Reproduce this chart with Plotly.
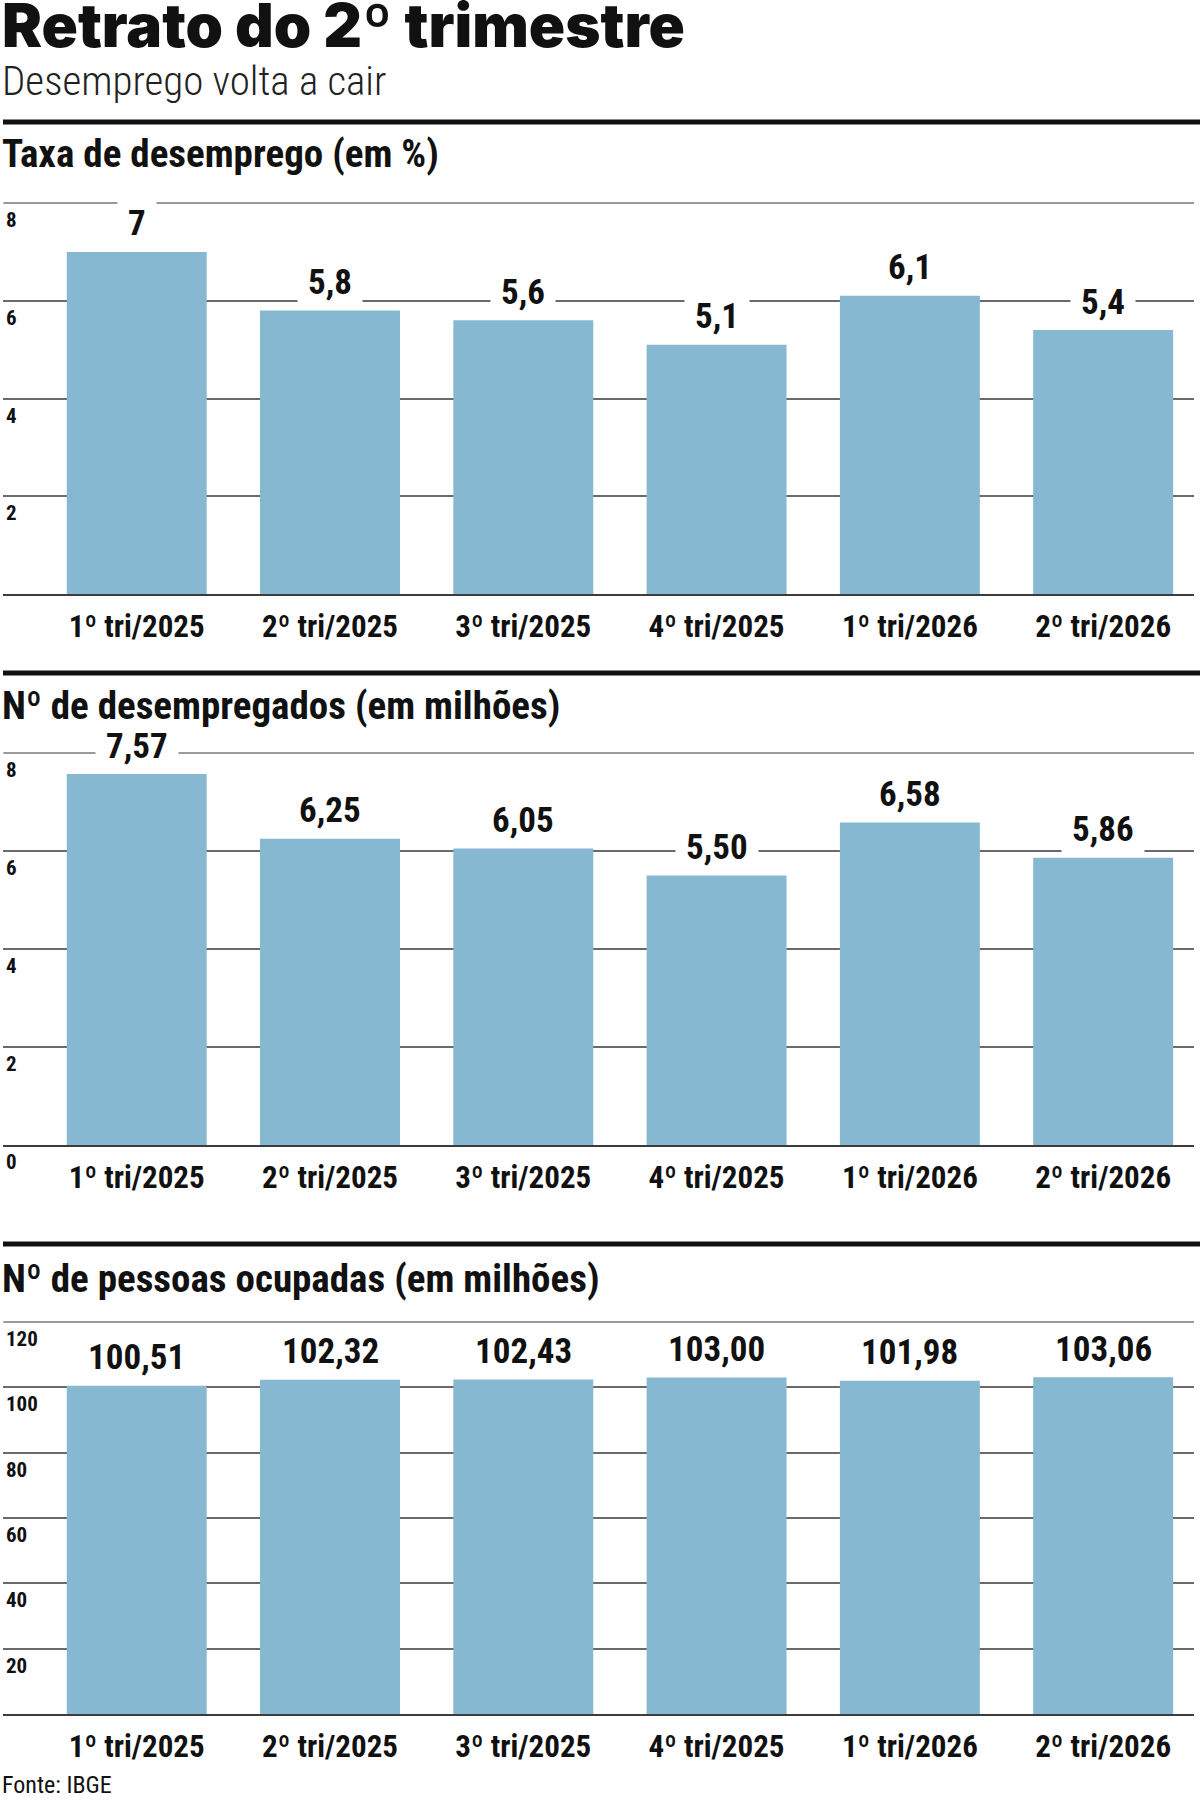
import plotly.graph_objects as go

# ---------------- data ----------------
categories = ["1º tri/2025", "2º tri/2025", "3º tri/2025", "4º tri/2025", "1º tri/2026", "2º tri/2026"]
taxa_desemprego = [7.0, 5.8, 5.6, 5.1, 6.1, 5.4]
desempregados = [7.57, 6.25, 6.05, 5.50, 6.58, 5.86]
ocupadas = [100.51, 102.32, 102.43, 103.00, 101.98, 103.06]

taxa_ticks = [8, 6, 4, 2]
desemp_ticks = [8, 6, 4, 2, 0]
ocup_ticks = [120, 100, 80, 60, 40, 20]

title_text = "Retrato do 2º trimestre"
subtitle_text = "Desemprego volta a cair"
headings = ["Taxa de desemprego (em %)",
            "Nº de desempregados (em milhões)",
            "Nº de pessoas ocupadas (em milhões)"]
source_text = "Fonte: IBGE"

# ---------------- style ----------------
W, H = 1200, 1800
BAR = "#86b8d2"
GRID = "#6a6a6a"
TOPLINE = "#9a9a9a"
INK = "#111111"
COND = "Roboto Condensed, Roboto, sans-serif"
HEAVY = "Inter, Roboto, sans-serif"


def py(px):
    return 1 - px / H


def fmt1(v):
    return f"{v:g}".replace(".", ",")


def fmt2(v):
    return f"{v:.2f}".replace(".", ",")


panels = [
    dict(values=taxa_desemprego, ticks=taxa_ticks, fmt=fmt1, ymax=8, dtick=2,
         top=203, bottom=594, rule=122, head=154),
    dict(values=desempregados, ticks=desemp_ticks, fmt=fmt2, ymax=8, dtick=2,
         top=753, bottom=1145, rule=673, head=706),
    dict(values=ocupadas, ticks=ocup_ticks, fmt=fmt2, ymax=120, dtick=20,
         top=1322, bottom=1714, rule=1244, head=1279),
]

fig = go.Figure()
annotations = []
shapes = []
layout = dict(
    width=W, height=H,
    margin=dict(l=0, r=0, t=0, b=0),
    paper_bgcolor="white", plot_bgcolor="white",
    showlegend=False, bargap=0.276,
)

x_range = [-0.69, 5.47]

for i, p in enumerate(panels):
    n = "" if i == 0 else str(i + 1)
    xa, ya = "x" + n, "y" + n
    fig.add_trace(go.Bar(
        x=categories, y=p["values"], xaxis=xa, yaxis=ya,
        marker=dict(color=BAR, line=dict(width=0)), hoverinfo="skip",
    ))
    layout["xaxis" + n] = dict(
        domain=[0.0028, 0.995], anchor=ya, type="category", range=x_range,
        showline=True, linecolor="#3c3c3c", linewidth=2, showgrid=False,
        ticks="outside", ticklen=4, tickcolor="rgba(0,0,0,0)",
        tickfont=dict(family=COND, size=31, color=INK, weight="bold"),
        fixedrange=True,
    )
    layout["yaxis" + n] = dict(
        domain=[py(p["bottom"]), py(p["top"])], anchor=xa,
        range=[0, p["ymax"]], tickmode="linear", tick0=0, dtick=p["dtick"],
        showticklabels=False, showgrid=True, gridcolor=GRID, gridwidth=2,
        zeroline=False, showline=False, fixedrange=True,
    )
    # lighter line along the top of each plot area
    shapes.append(dict(type="line", xref=xa + " domain", yref=ya + " domain",
                       x0=0, x1=1, y0=1, y1=1, layer="below",
                       line=dict(color=TOPLINE, width=2)))
    # y tick labels, set just under their gridlines at the left edge
    for t in p["ticks"]:
        annotations.append(dict(
            x=0.003, xref="paper", xanchor="left", y=t, yref=ya, yanchor="top",
            yshift=-3, text=str(t), showarrow=False,
            font=dict(family=COND, size=21, color=INK, weight="bold"),
        ))
    # value labels with white background, covering the gridlines
    for c, v in zip(categories, p["values"]):
        annotations.append(dict(
            x=c, xref=xa, y=v, yref=ya, yanchor="middle", yshift=28,
            text="\u00a0" + p["fmt"](v) + "\u00a0", showarrow=False,
            bgcolor="white", borderpad=2,
            font=dict(family=COND, size=35, color=INK, weight="bold"),
        ))
    # section rule and heading
    shapes.append(dict(type="line", xref="paper", yref="paper",
                       x0=0.0025, x1=1, y0=py(p["rule"]), y1=py(p["rule"]),
                       line=dict(color=INK, width=5)))
    annotations.append(dict(
        x=0.0, xref="paper", xanchor="left", y=py(p["head"]), yref="paper",
        yanchor="middle", text=headings[i], showarrow=False,
        font=dict(family=COND, size=39, color=INK, weight="bold"),
    ))

# title, subtitle, source
annotations.append(dict(
    x=0.0, xref="paper", xanchor="left", y=py(25), yref="paper", yanchor="middle",
    text=title_text, showarrow=False,
    font=dict(family=HEAVY, size=60, color=INK, weight=900),
))
annotations.append(dict(
    x=0.0, xref="paper", xanchor="left", y=py(81), yref="paper", yanchor="middle",
    text=subtitle_text, showarrow=False,
    font=dict(family=COND, size=41, color="#222222", weight=300),
))
annotations.append(dict(
    x=0.0, xref="paper", xanchor="left", y=py(1785), yref="paper", yanchor="middle",
    text=source_text, showarrow=False,
    font=dict(family=COND, size=24, color=INK),
))

layout["annotations"] = annotations
layout["shapes"] = shapes
fig.update_layout(**layout)
fig.write_html("out.html", config={"displayModeBar": False},
               post_script="document.body.style.margin='0';")
